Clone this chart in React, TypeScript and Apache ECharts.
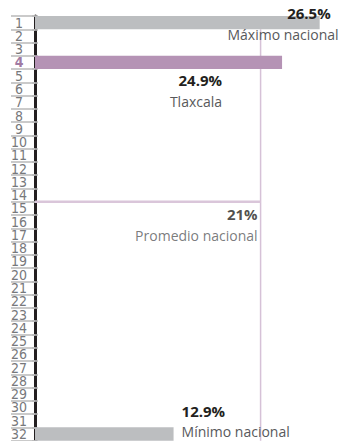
import React, { useEffect, useRef } from "react";
import * as echarts from "echarts";

// Tick labels (ranking positions)
const positions = [
  "1", "2", "3", "4", "5", "6", "7", "8", "9", "10", "11", "12", "13", "14", "15", "16",
  "17", "18", "19", "20", "21", "22", "23", "24", "25", "26", "27", "28", "29", "30", "31", "32",
];

// Highlighted rows
const maxRow = "1";
const maxValue = 26.5;
const maxName = "Máximo nacional";

const stateRow = "4";
const stateBarValue = 23.0; // bar length as drawn in the picture
const stateValueText = "24.9%";
const stateName = "Tlaxcala";

const minRow = "32";
const minValue = 12.9;
const minName = "Mínimo nacional";

const avgValue = 21;
const avgBoundary = 14; // between rows 14 and 15
const avgName = "Promedio nacional";

const FONT = "'Open Sans', 'Noto Sans', sans-serif";
const NUM_FONT = "'Liberation Sans Narrow', 'DejaVu Sans Condensed', Roboto, sans-serif";

const rich = {
  v: { fontFamily: FONT, fontWeight: "bold", fontSize: 15, color: "#231f20", lineHeight: 21 },
  vp: { fontFamily: FONT, fontWeight: "bold", fontSize: 15, color: "#231f20", lineHeight: 21, padding: [0, 8, 0, 0] },
  n: { fontFamily: FONT, fontSize: 14, color: "#58595b", lineHeight: 21 },
};

export default function App() {
  const ref = useRef<HTMLDivElement>(null);

  useEffect(() => {
    if (!ref.current) return;
    const chart = echarts.init(ref.current, null, { renderer: "svg" });
    const option: any = {
      animation: false,
      grid: { left: 35, right: 0, top: 16, bottom: 0, containLabel: false },
      xAxis: { type: "value", min: 0, max: 28.3, show: false },
      yAxis: [
        {
          type: "category",
          position: "left",
          data: positions,
          inverse: true,
          offset: 3,
          axisLine: { show: true, lineStyle: { color: "#231f20", width: 3 } },
          axisTick: { show: true, interval: 0, length: 24, lineStyle: { color: "#b8b8b8", width: 1.5 } },
          axisLabel: {
            show: true,
            interval: 0,
            align: "center",
            margin: 13,
            fontFamily: NUM_FONT,
            fontSize: 14,
            lineHeight: 13,
            color: "#77787b",
            formatter: (v: string) => (v === stateRow ? `{s|${v}}` : v),
            rich: {
              s: { fontFamily: NUM_FONT, fontSize: 14, lineHeight: 13, fontWeight: "bold", color: "#a07aa3" },
            },
          },
          splitLine: { show: false },
        },
        { type: "value", position: "left", min: 0, max: 32, inverse: true, show: false },
        {
          type: "category",
          position: "left",
          data: positions,
          inverse: true,
          offset: 3,
          axisLine: { show: false },
          axisTick: { show: true, interval: 0, inside: true, length: 6, lineStyle: { color: "#b8b8b8", width: 1.5 } },
          axisLabel: { show: false },
          splitLine: { show: false },
        },
      ],
      series: [
        {
          type: "line",
          xAxisIndex: 0,
          yAxisIndex: 1,
          data: [
            [avgValue, 1],
            [avgValue, positions.length],
          ],
          symbol: "none",
          silent: true,
          z: 1,
          lineStyle: { color: "#d6c1d7", width: 1.5 },
        },
        {
          type: "line",
          xAxisIndex: 0,
          yAxisIndex: 1,
          data: [
            [0, avgBoundary],
            [avgValue, avgBoundary],
          ],
          symbol: "none",
          silent: true,
          z: 1,
          lineStyle: { color: "#dac6da", width: 2.5 },
        },
        {
          type: "bar",
          xAxisIndex: 0,
          yAxisIndex: 0,
          barWidth: "100%",
          silent: true,
          z: 2,
          data: [
            {
              value: [maxValue, maxRow],
              itemStyle: { color: "#bcbec0" },
              label: {
                show: true,
                position: "insideRight",
                distance: 0,
                offset: [19, 1],
                formatter: `{vp|${maxValue}%}\n{n|${maxName}}`,
                rich,
              },
            },
            {
              value: [stateBarValue, stateRow],
              itemStyle: { color: "#b593b5" },
              label: {
                show: true,
                position: "insideRight",
                distance: 0,
                offset: [-60, 28.5],
                formatter: `{v|${stateValueText}}\n{n|${stateName}}`,
                rich,
              },
            },
            {
              value: [minValue, minRow],
              itemStyle: { color: "#bcbec0" },
              label: {
                show: true,
                position: "right",
                distance: 0,
                offset: [8, -13],
                formatter: `{v|${minValue}%}\n{n|${minName}}`,
                rich,
              },
            },
          ],
        },
        {
          type: "scatter",
          xAxisIndex: 0,
          yAxisIndex: 1,
          symbolSize: 1,
          silent: true,
          z: 3,
          itemStyle: { color: "rgba(0,0,0,0)" },
          data: [
            {
              value: [avgValue, avgBoundary],
              label: {
                show: true,
                position: "inside",
                align: "right",
                verticalAlign: "middle",
                offset: [-3, 23],
                formatter: `{v|${avgValue}%}\n{n|${avgName}}`,
                rich,
              },
            },
          ],
        },
      ],
    };
    chart.setOption(option);
    return () => chart.dispose();
  }, []);

  return (
    <div
      ref={ref}
      style={{ position: "absolute", left: 0, top: 0, width: 339, height: 441 }}
    />
  );
}
